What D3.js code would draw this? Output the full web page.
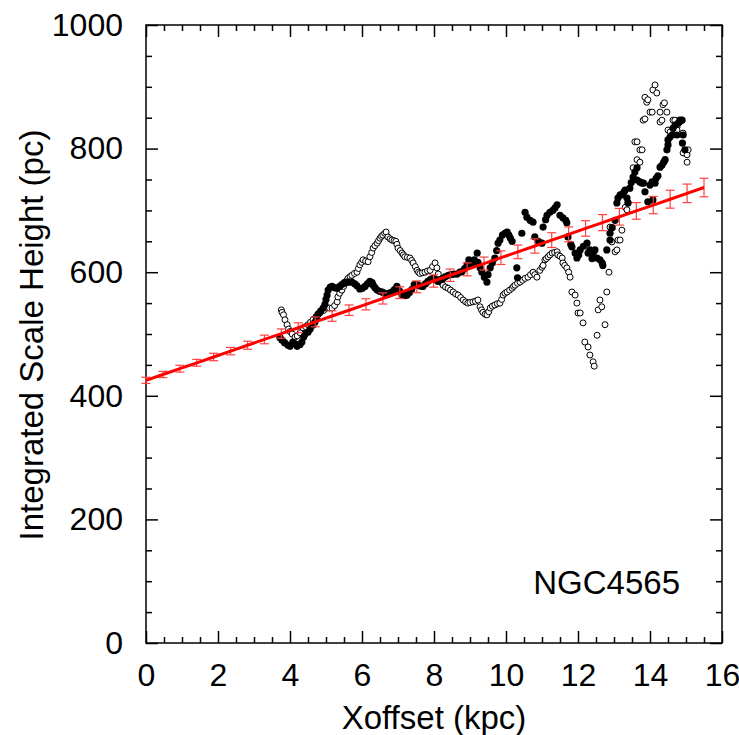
<!DOCTYPE html>
<html>
<head>
<meta charset="utf-8">
<script src="https://cdn.jsdelivr.net/npm/d3@7"></script>
<style>
  body { margin: 0; background: #fff; }
  text { font-family: "Liberation Sans", Arial, Helvetica, sans-serif; }
</style>
</head>
<body>
<script>
// filled circles (x kpc, scale height pc)
var filledPts = [
  [3.72,494],[3.78,490],[3.85,486],[3.94,482],[4.0,480],[4.08,487],[4.14,484],[4.2,480],[4.28,483],[4.33,487],
  [4.38,495],[4.42,500],[4.5,503],[4.56,508],[4.63,514],[4.69,519],[4.74,526],[4.78,532],[4.85,537],[4.92,542],
  [4.97,548],[5.0,556],[5.03,563],[5.06,571],[5.12,576],[5.17,577],[5.24,575],[5.31,574],[5.38,577],[5.44,580],
  [5.51,583],[5.58,584],[5.65,584],[5.72,584],[5.8,581],[5.86,578],[5.94,573],[6.01,574],[6.08,577],[6.15,581],
  [6.22,585],[6.28,583],[6.31,579],[6.36,575],[6.42,571],[6.49,569],[6.56,568],[6.62,566],[6.69,564],[6.76,566],
  [6.83,568],[6.9,572],[6.97,577],[7.04,570],[7.11,563],[7.18,562],[7.25,563],[7.32,567],[7.38,572],[7.45,580],
  [7.53,580],[7.6,578],[7.69,577],[7.76,581],[7.83,585],[7.9,588],[7.97,590],[8.04,588],[8.11,585],[8.18,588],
  [8.25,590],[8.32,593],[8.4,595],[8.47,596],[8.55,597],[8.64,597],[8.72,600],[8.78,601],[8.85,606],[8.92,612],
  [8.97,620],[9.05,612],[9.12,620],[9.2,631],[9.22,616],[9.28,607],[9.33,600],[9.4,592],[9.47,584],[9.5,596],
  [9.56,607],[9.62,615],[9.69,623],[9.74,635],[9.78,647],[9.83,652],[9.9,660],[9.97,663],[10.03,665],[10.08,660],
  [10.12,655],[10.17,650],[10.3,607],[10.32,591],[10.44,663],[10.53,697],[10.58,689],[10.67,684],[10.75,681],[10.8,657],
  [10.9,650],[11.0,647],[11.03,673],[11.1,685],[11.14,692],[11.22,697],[11.3,700],[11.36,704],[11.42,709],[11.5,692],
  [11.58,688],[11.66,684],[11.69,680],[11.72,657],[11.8,645],[11.83,641],[11.92,631],[11.97,623],[12.02,628],[12.06,636],
  [12.15,642],[12.25,647],[12.28,631],[12.33,636],[12.39,622],[12.42,628],[12.47,636],[12.53,623],[12.61,620],[12.67,615],
  [12.69,611],[12.8,636],[12.89,652],[12.89,663],[12.95,672],[13.03,684],[13.08,712],[13.11,720],[13.17,725],[13.22,725],
  [13.28,730],[13.31,733],[13.36,720],[13.39,712],[13.44,736],[13.48,745],[13.53,754],[13.58,762],[13.64,769],[13.64,749],
  [13.72,746],[13.78,744],[13.82,744],[13.86,730],[13.94,714],[14.0,741],[14.06,746],[14.08,717],[14.14,744],[14.17,752],
  [14.22,756],[14.28,770],[14.33,773],[14.38,778],[14.42,782],[14.47,798],[14.5,806],[14.5,814],[14.56,819],[14.61,822],
  [14.64,833],[14.7,838],[14.75,822],[14.78,841],[14.83,846],[14.89,846],[14.92,822],[14.9,809],[14.97,798]
];

// open circles
var openPts = [
  [3.76,539],[3.78,535],[3.82,531],[3.86,523],[3.92,515],[3.96,508],[4.0,504],[4.06,500],[4.14,495],[4.2,497],
  [4.28,502],[4.36,510],[4.43,512],[4.5,515],[4.57,519],[4.64,523],[4.72,528],[4.83,534],[4.93,538],[5.03,542],
  [5.1,542],[5.17,542],[5.24,546],[5.31,552],[5.33,560],[5.38,566],[5.44,571],[5.49,577],[5.53,582],[5.57,586],
  [5.61,590],[5.67,593],[5.72,595],[5.79,598],[5.86,600],[5.9,606],[5.94,612],[5.99,616],[6.03,620],[6.1,618],
  [6.17,617],[6.22,625],[6.27,632],[6.31,639],[6.36,643],[6.42,647],[6.46,651],[6.5,655],[6.54,658],[6.58,660],
  [6.63,663],[6.67,665],[6.72,657],[6.78,654],[6.83,652],[6.89,651],[6.94,650],[6.97,645],[7.0,639],[7.06,635],
  [7.11,631],[7.15,628],[7.19,625],[7.26,624],[7.33,623],[7.38,619],[7.42,615],[7.48,609],[7.53,603],[7.57,600],
  [7.61,598],[7.68,599],[7.75,600],[7.82,602],[7.89,603],[7.96,609],[8.03,615],[8.08,607],[8.12,597],[8.17,587],
  [8.21,583],[8.25,579],[8.32,576],[8.39,574],[8.46,571],[8.53,568],[8.6,565],[8.67,563],[8.74,559],[8.81,555],
  [8.88,552],[8.94,550],[9.0,551],[9.08,552],[9.15,553],[9.22,555],[9.28,544],[9.32,539],[9.36,535],[9.42,532],
  [9.47,531],[9.52,536],[9.56,542],[9.62,545],[9.69,547],[9.76,549],[9.83,550],[9.88,556],[9.92,563],[9.97,566],
  [10.03,568],[10.1,571],[10.17,574],[10.21,577],[10.25,579],[10.32,582],[10.39,584],[10.46,587],[10.53,590],[10.61,592],
  [10.68,596],[10.75,600],[10.8,596],[10.86,592],[10.94,603],[11.0,608],[11.03,611],[11.08,620],[11.12,622],[11.17,625],
  [11.22,628],[11.28,631],[11.35,632],[11.42,633],[11.44,628],[11.5,626],[11.56,623],[11.58,615],[11.63,611],[11.69,607],
  [11.74,600],[11.78,592],[11.83,568],[11.92,563],[11.97,550],[12.0,534],[12.06,534],[12.14,518],[12.19,487],[12.28,479],
  [12.33,466],[12.42,455],[12.45,448],[12.53,498],[12.56,539],[12.61,555],[12.66,544],[12.75,515],[12.8,568],[12.86,600],
  [12.89,673],[12.94,649],[13.03,633],[13.08,636],[13.11,652],[13.17,652],[13.22,668],[13.31,705],[13.36,701],[13.39,713],
  [13.53,769],[13.58,811],[13.64,811],[13.64,782],[13.72,798],[13.72,778],[13.78,798],[13.81,846],[13.86,848],[13.86,883],
  [13.91,875],[13.94,879],[14.0,859],[14.06,859],[14.08,895],[14.14,903],[14.19,890],[14.28,859],[14.28,843],[14.33,846],
  [14.36,871],[14.4,874],[14.47,859],[14.5,830],[14.56,827],[14.64,846],[14.69,846],[14.75,835],[14.75,830],[14.83,843],
  [14.92,825],[14.92,793],[15.03,790],[15.03,778],[15.06,798]
];

// linear fit with error bars
var fitX = [0, 0.47, 0.94, 1.41, 1.88, 2.35, 2.82, 3.29, 3.76, 4.23, 4.70, 5.17, 5.64, 6.11, 6.58, 7.05, 7.52,
            7.99, 8.45, 8.92, 9.39, 9.86, 10.33, 10.80, 11.27, 11.74, 12.21, 12.68, 13.15, 13.62, 14.09, 14.56, 15.03, 15.50];
var fitY = [425, 434.5, 443.9, 453.4, 462.8, 472.3, 481.8, 491.2, 500.7, 510.1, 519.6, 529.1, 538.5, 548, 557.5, 566.9, 576.4,
            585.8, 595.1, 604.6, 614, 623.5, 632.9, 642.4, 651.9, 661.3, 670.8, 680.2, 689.7, 699.2, 708.6, 718.1, 727.6, 737];
var fitErr = [5, 5, 5.5, 5.5, 6, 6, 6.5, 7, 7.5, 8, 8, 8.5, 8.5, 9, 9, 9.5, 9.5,
              10, 10, 10.5, 10.5, 11, 11, 11.5, 12, 12, 12.5, 13, 13.5, 13.5, 14, 14.5, 15, 15];

var xMajor = [0, 2, 4, 6, 8, 10, 12, 14, 16];
var yMajor = [0, 200, 400, 600, 800, 1000];

var W = 739, H = 735;
var x = d3.scaleLinear().domain([0, 16]).range([146, 722]);
var y = d3.scaleLinear().domain([0, 1000]).range([643, 25]);

var svg = d3.select("body").append("svg")
    .attr("width", W)
    .attr("height", H);

svg.append("rect").attr("width", W).attr("height", H).attr("fill", "#fff");

// minor ticks
var xMinor = d3.range(0, 16.01, 0.5).filter(function(v) { return v % 2 !== 0; });
var yMinor = d3.range(0, 1001, 50).filter(function(v) { return v % 200 !== 0; });

function axisStyle(g) {
    g.select(".domain").remove();
    g.selectAll(".tick line").attr("stroke", "#000").attr("stroke-width", 1.5);
    g.selectAll("text").attr("fill", "#000").attr("font-size", 32);
}

// bottom
svg.append("g").attr("transform", "translate(0,643)")
    .call(d3.axisBottom(x).tickValues(xMajor).tickFormat(d3.format("d")).tickSize(-12).tickPadding(20))
    .call(axisStyle)
    .selectAll("text").attr("dy", "0.71em");
svg.append("g").attr("transform", "translate(0,643)")
    .call(d3.axisBottom(x).tickValues(xMinor).tickFormat("").tickSize(-6))
    .call(axisStyle);
// top
svg.append("g").attr("transform", "translate(0,25)")
    .call(d3.axisTop(x).tickValues(xMajor).tickFormat("").tickSize(-12))
    .call(axisStyle);
svg.append("g").attr("transform", "translate(0,25)")
    .call(d3.axisTop(x).tickValues(xMinor).tickFormat("").tickSize(-6))
    .call(axisStyle);
// left
svg.append("g").attr("transform", "translate(146,0)")
    .call(d3.axisLeft(y).tickValues(yMajor).tickFormat(d3.format("d")).tickSize(-12).tickPadding(23))
    .call(axisStyle);
svg.append("g").attr("transform", "translate(146,0)")
    .call(d3.axisLeft(y).tickValues(yMinor).tickFormat("").tickSize(-6))
    .call(axisStyle);
// right
svg.append("g").attr("transform", "translate(722,0)")
    .call(d3.axisRight(y).tickValues(yMajor).tickFormat("").tickSize(-12))
    .call(axisStyle);
svg.append("g").attr("transform", "translate(722,0)")
    .call(d3.axisRight(y).tickValues(yMinor).tickFormat("").tickSize(-6))
    .call(axisStyle);

// frame
svg.append("rect")
    .attr("x", 146).attr("y", 25)
    .attr("width", 722 - 146).attr("height", 643 - 25)
    .attr("fill", "none").attr("stroke", "#000").attr("stroke-width", 1.5);

// data points
svg.append("g").selectAll("circle")
    .data(openPts).enter().append("circle")
    .attr("cx", function(d) { return x(d[0]); })
    .attr("cy", function(d) { return y(d[1]); })
    .attr("r", 3)
    .attr("fill", "#fff")
    .attr("stroke", "#000")
    .attr("stroke-width", 1);

svg.append("g").selectAll("circle")
    .data(filledPts).enter().append("circle")
    .attr("cx", function(d) { return x(d[0]); })
    .attr("cy", function(d) { return y(d[1]); })
    .attr("r", 3.6)
    .attr("fill", "#000");

// fit line + error bars
var fit = fitX.map(function(v, i) { return {x: v, y: fitY[i], e: fitErr[i]}; });

var bars = svg.append("g").attr("stroke", "#ff4040").attr("stroke-width", 1.2);
fit.forEach(function(d) {
    var cx = x(d.x);
    bars.append("line").attr("x1", cx).attr("x2", cx).attr("y1", y(d.y - d.e)).attr("y2", y(d.y + d.e));
    bars.append("line").attr("x1", cx - 4.5).attr("x2", cx + 4.5).attr("y1", y(d.y - d.e)).attr("y2", y(d.y - d.e));
    bars.append("line").attr("x1", cx - 4.5).attr("x2", cx + 4.5).attr("y1", y(d.y + d.e)).attr("y2", y(d.y + d.e));
});

svg.append("path")
    .datum(fit)
    .attr("fill", "none")
    .attr("stroke", "#ff0000")
    .attr("stroke-width", 3)
    .attr("d", d3.line().x(function(d) { return x(d.x); }).y(function(d) { return y(d.y); }));

// labels
svg.append("text")
    .attr("x", 434).attr("y", 729)
    .attr("text-anchor", "middle")
    .attr("font-size", 33)
    .text("Xoffset (kpc)");

svg.append("text")
    .attr("transform", "translate(43,335) rotate(-90)")
    .attr("text-anchor", "middle")
    .attr("font-size", 33)
    .text("Integrated Scale Height (pc)");

svg.append("text")
    .attr("x", 680).attr("y", 594)
    .attr("text-anchor", "end")
    .attr("font-size", 33)
    .text("NGC4565");
</script>
</body>
</html>
